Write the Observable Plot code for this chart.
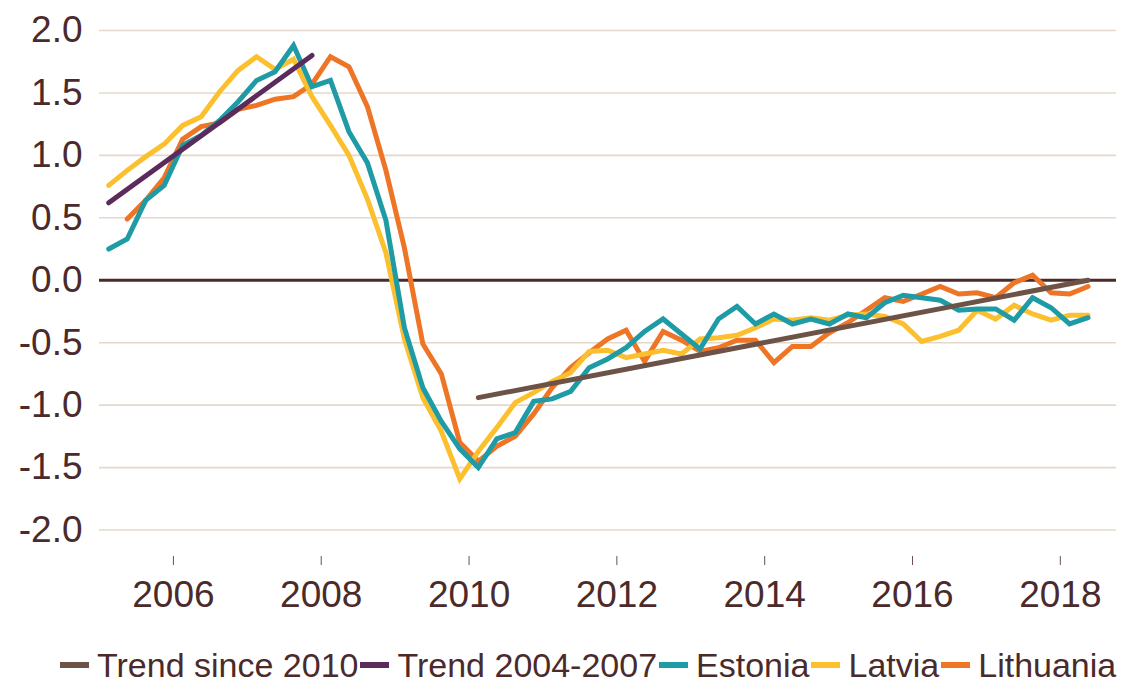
<!DOCTYPE html>
<html>
<head>
<meta charset="utf-8">
<script src="https://cdn.jsdelivr.net/npm/d3@7"></script>
<script src="https://cdn.jsdelivr.net/npm/@observablehq/plot@0.6"></script>
<style>
  html, body { margin: 0; padding: 0; background: #fff; }
  #chart { width: 1132px; }
  .legend { display: flex; align-items: center; height: 70px; padding-left: 60px;
    font-family: "Liberation Sans", Arial, sans-serif; font-size: 34px; color: #4b2a2b; white-space: nowrap; }
  .legend .item { display: flex; align-items: center; margin-right: 2px; }
  .legend .sw { width: 29px; height: 6px; margin-right: 8px; }
</style>
</head>
<body>
<div id="chart"></div>
<script>
// Quarterly data, 2005Q1 .. 2018Q2 (54 quarters)
const quarters = [];
for (let y = 2005; y <= 2018; y++) for (let q = 1; q <= 4; q++) { if (y === 2018 && q > 2) break; quarters.push(`${y}Q${q}`); }

const estonia = [0.25, 0.33, 0.64, 0.76, 1.08, 1.16, 1.28, 1.43, 1.60, 1.67, 1.88, 1.55, 1.60, 1.19, 0.94, 0.48,
  -0.38, -0.86, -1.13, -1.35, -1.50, -1.27, -1.22, -0.97, -0.95, -0.89, -0.70, -0.63, -0.54, -0.41, -0.31, -0.43,
  -0.55, -0.31, -0.21, -0.35, -0.27, -0.35, -0.31, -0.35, -0.27, -0.30, -0.18, -0.12, -0.14, -0.16, -0.24, -0.23,
  -0.23, -0.32, -0.14, -0.22, -0.35, -0.30];
const latvia = [0.76, 0.88, 0.99, 1.09, 1.24, 1.31, 1.51, 1.68, 1.79, 1.69, 1.77, 1.47, 1.24, 1.00, 0.65, 0.22,
  -0.47, -0.94, -1.21, -1.59, -1.37, -1.18, -0.98, -0.90, -0.81, -0.74, -0.57, -0.56, -0.62, -0.59, -0.56, -0.59,
  -0.47, -0.46, -0.44, -0.38, -0.31, -0.32, -0.30, -0.32, -0.28, -0.27, -0.29, -0.35, -0.49, -0.45, -0.40, -0.24,
  -0.31, -0.20, -0.27, -0.32, -0.28, -0.28];
const lithuania = [null, 0.49, 0.64, 0.82, 1.13, 1.23, 1.26, 1.37, 1.40, 1.45, 1.47, 1.57, 1.79, 1.71, 1.39, 0.88,
  0.26, -0.51, -0.75, -1.30, -1.45, -1.33, -1.25, -1.07, -0.86, -0.70, -0.58, -0.47, -0.40, -0.65, -0.41, -0.48,
  -0.57, -0.54, -0.48, -0.48, -0.66, -0.53, -0.53, -0.42, -0.34, -0.24, -0.14, -0.17, -0.11, -0.05, -0.11, -0.10,
  -0.14, -0.02, 0.04, -0.10, -0.11, -0.05];
const trendPreQuarters = ["2005Q1", "2007Q4"];
const trendPreValues = [0.62, 1.80];
const trendPostQuarters = ["2010Q1", "2018Q2"];
const trendPostValues = [-0.94, 0.0];

const yTicks = [-2, -1.5, -1, -0.5, 0, 0.5, 1, 1.5, 2];
const xTicks = [2006, 2008, 2010, 2012, 2014, 2016, 2018];

const seriesNames = ["Trend since 2010", "Trend 2004-2007", "Estonia", "Latvia", "Lithuania"];
const seriesColors = ["#6d5347", "#5a2b5c", "#1f9ba6", "#fcbf2d", "#ee7525"];

// quarter label -> decimal year at mid-quarter
const qx = s => { const [y, q] = s.split("Q").map(Number); return y + (q - 0.5) / 4; };
const toRows = (vals) => quarters.map((q, i) => ({x: qx(q), v: vals[i]})).filter(d => d.v != null);
const trendRows = (qs, vs) => qs.map((q, i) => ({x: qx(q), v: vs[i]}));

const ink = "#4b2a2b";
const lineOpts = (color) => ({x: "x", y: "v", stroke: color, strokeWidth: 5, strokeLinejoin: "miter", strokeMiterlimit: 10});

const chart = Plot.plot({
  width: 1132, height: 630,
  marginLeft: 99, marginRight: 16, marginTop: 30, marginBottom: 74,
  x: {domain: [2005, 2018.76], label: null},
  y: {domain: [-2.212, 2], label: null},
  style: {fontFamily: "Liberation Sans, Arial, sans-serif", fontSize: "37px", color: ink, background: "#fff"},
  marks: [
    Plot.ruleY(yTicks.filter(d => d !== 0), {stroke: "#e5d8cb", strokeWidth: 1.6}),
    Plot.ruleY([0], {stroke: ink, strokeWidth: 3}),
    Plot.axisY({ticks: yTicks, tickSize: 0, tickPadding: 17, tickFormat: d => d.toFixed(1), fontSize: 37, fill: ink, label: null}),
    Plot.axisX({ticks: xTicks, tickSize: 9, tickPadding: 15, tickFormat: d => String(d), fontSize: 37, fill: ink, stroke: "#6b5050", label: null}),
    Plot.line(toRows(lithuania), lineOpts(seriesColors[4])),
    Plot.line(toRows(latvia), lineOpts(seriesColors[3])),
    Plot.line(toRows(estonia), lineOpts(seriesColors[2])),
    Plot.line(trendRows(trendPreQuarters, trendPreValues), lineOpts(seriesColors[1])),
    Plot.line(trendRows(trendPostQuarters, trendPostValues), lineOpts(seriesColors[0]))
  ]
});
document.getElementById("chart").appendChild(chart);

const legend = document.createElement("div");
legend.className = "legend";
seriesNames.forEach((name, i) => {
  const item = document.createElement("div");
  item.className = "item";
  const sw = document.createElement("span");
  sw.className = "sw";
  sw.style.background = seriesColors[i];
  const label = document.createElement("span");
  label.textContent = name;
  item.appendChild(sw); item.appendChild(label);
  legend.appendChild(item);
});
document.getElementById("chart").appendChild(legend);
</script>
</body>
</html>
